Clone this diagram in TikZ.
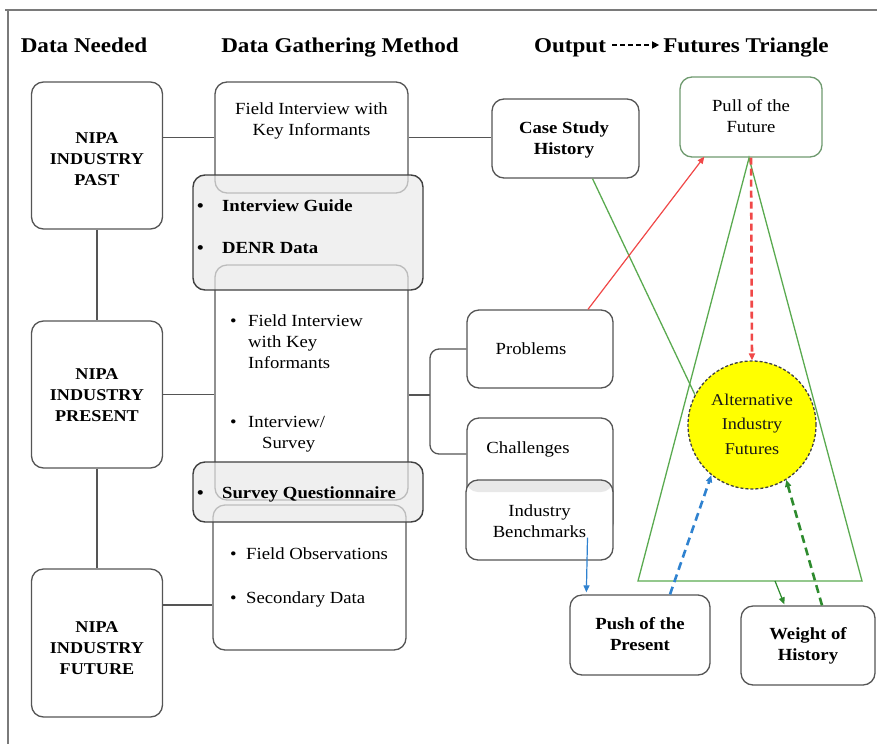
\documentclass[tikz,border=0pt]{standalone}
\usepackage{fontspec}
\setmainfont{Liberation Serif}[FakeStretch=1.1]
\usetikzlibrary{arrows.meta}
\definecolor{edge}{HTML}{555555}
\definecolor{framegray}{HTML}{7a7a7a}
\definecolor{tri}{HTML}{5aaa50}
\definecolor{pullred}{HTML}{F04848}
\definecolor{pushblue}{HTML}{2F82D0}
\definecolor{histgreen}{HTML}{2E8B2E}
\definecolor{panel}{HTML}{E9E9E9}
\definecolor{sun}{HTML}{FFFF00}
\definecolor{pullbox}{HTML}{6F9A6F}

\begin{document}
\begin{tikzpicture}[x=1pt,y=-1pt,
  box/.style={draw=edge, line width=1.3pt, rounded corners=12pt, fill=white, inner sep=0pt},
  panelbox/.style={draw=black!75, line width=1.4pt, rounded corners=12pt, fill=panel, fill opacity=0.7, inner sep=0pt},
  txt/.style={font=\fontsize{17}{21}\selectfont, align=center, inner sep=0pt},
  btxt/.style={font=\fontsize{17}{21}\selectfont\bfseries, align=center, inner sep=0pt},
  lst/.style={font=\fontsize{17}{21}\selectfont, inner sep=0pt, anchor=base west},
  blst/.style={font=\fontsize{17}{21}\selectfont\bfseries, inner sep=0pt, anchor=base west},
  head/.style={font=\fontsize{21}{25}\selectfont\bfseries, inner sep=0pt, anchor=base},
  conn/.style={draw=edge, line width=1.3pt},
  tip/.style={-{Triangle[length=7pt,width=6pt]}}]

\useasboundingbox (0,0) rectangle (877,744);

% outer frame (only the top and left sides are in view)
\draw[framegray, line width=2pt] (5,10) -- (877,10);
\draw[framegray, line width=2pt] (8,10) -- (8,744);

% column headings
\node[head] (hNeed) at (84,52) {Data Needed};
\node[head] (hMeth) at (340,52) {Data Gathering Method};
\node[head] (hOut) at (570,52) {Output};
\node[head] (hTri) at (746,52) {Futures Triangle};
\draw[black, line width=1.4pt, dashed, dash pattern=on 5pt off 3pt, -{Triangle[length=7pt,width=7pt]}]
  ([xshift=6pt,yshift=7pt]hOut.base east) coordinate (hA) -- ([xshift=-4pt,yshift=7pt]hTri.base west) coordinate (hB);

% data needed
\node[box, minimum width=131pt, minimum height=147pt] (past) at (97,155.5) {};
\node[btxt, font=\fontsize{16.5}{21}\selectfont\bfseries] (pastT) at (97,159) {NIPA\\INDUSTRY\\PAST};
\node[box, minimum width=131pt, minimum height=147pt] (present) at (97,394.5) {};
\node[btxt, font=\fontsize{16.5}{21}\selectfont\bfseries] (presentT) at (97,395) {NIPA\\INDUSTRY\\PRESENT};
\node[box, minimum width=131pt, minimum height=148pt] (future) at (97,643) {};
\node[btxt, font=\fontsize{16.5}{21}\selectfont\bfseries] (futureT) at (97,648) {NIPA\\INDUSTRY\\FUTURE};

\draw[conn] (past.south) -- (present.north);
\draw[conn] (present.south) -- (future.north);

% data gathering methods
\node[box, minimum width=193pt, minimum height=111pt] (boxA) at (311.5,137.5) {};
\node[txt] (boxAT) at (311.5,121) {Field Interview with\\Key Informants};
\node[box, minimum width=193pt, minimum height=235pt] (boxB) at (311.5,382.5) {};
\node[box, minimum width=193pt, minimum height=145pt] (boxC) at (309.5,577.5) {};

\node[lst] (bB1) at (230,326) {\textbullet};
\node[lst] (bB1t) at (248,326) {\begin{tabular}[t]{@{}l@{}}Field Interview\\with Key\\Informants\end{tabular}};
\node[lst] (bB2) at (230,427) {\textbullet};
\node[lst] (bB2t) at (248,427) {\begin{tabular}[t]{@{}l@{}}Interview/\\\hspace*{14pt}Survey\end{tabular}};
\node[lst] (bC1) at (230,559) {\textbullet};
\node[lst] (bC1t) at (246,559) {Field Observations};
\node[lst] (bC2) at (230,603) {\textbullet};
\node[lst] (bC2t) at (246,603) {Secondary Data};

% translucent instrument panels laid over the method boxes
\node[panelbox, minimum width=230pt, minimum height=115pt] (gradeA) at (308,232.5) {};
\node[blst] (gA1) at (197,211) {\textbullet};
\node[blst] (gA1t) at (222,211) {Interview Guide};
\node[blst] (gA2) at (197,253) {\textbullet};
\node[blst] (gA2t) at (222,253) {DENR Data};

\node[panelbox, minimum width=230pt, minimum height=60pt] (gradeB) at (308,492) {};
\node[blst] (gB1) at (197,498) {\textbullet};
\node[blst] (gB1t) at (222,498) {Survey Questionnaire};

\draw[conn] (boxA.west) -- (boxA.west -| past.east);
\draw[conn] (present.east) -- (present.east -| boxB.west);
\draw[conn] ([yshift=38pt]future.east) coordinate (fc) -- (fc -| boxC.west);

% outputs
\node[box, minimum width=147pt, minimum height=79pt] (case) at (565.5,138.5) {};
\node[btxt] (caseT) at (564,140) {Case Study\\History};
\node[box, minimum width=146pt, minimum height=78pt] (problems) at (540,349) {};
\node[txt] (problemsT) at (531,349) {Problems};
\node[box, minimum width=146pt, minimum height=117pt] (challenges) at (540,476.5) {};
\node[txt] (challengesT) at (528,449) {Challenges};
\node[box, minimum width=147pt, minimum height=80pt,
      path picture={\fill[black!9] (path picture bounding box.north west) rectangle ([yshift=-12pt]path picture bounding box.north east);}]
      (industry) at (539.5,520) {};
\node[txt] (industryT) at (539.5,521) {Industry\\Benchmarks};

\draw[conn] (boxA.east) -- (boxA.east -| case.west);
\coordinate (brk) at (430,395);
\draw[conn] ([yshift=-12.5pt]boxB.east) -- (brk);
\draw[conn, rounded corners=9pt] (problems.west) -- (problems.west -| brk) -- (brk |- 0,454) -- (challenges.west |- 0,454);

% futures triangle
\node[box, draw=pullbox, minimum width=142pt, minimum height=80pt] (pull) at (751,117) {};
\node[txt] (pullT) at (751,116) {Pull of the\\Future};
\coordinate (apex) at (749,158);
\coordinate (baseL) at (638,581);
\coordinate (baseR) at (862,581);
\draw[tri, line width=1.3pt] (baseL) -- (apex) -- (baseR) -- cycle;

\node[circle, draw=black!75, dashed, dash pattern=on 3pt off 2pt, line width=1.3pt, fill=sun,
      minimum size=128pt, inner sep=0pt] (alt) at (752,425) {};
\node[txt, font=\fontsize{16.5}{24.5}\selectfont, text=black!90] (altT) at (752,424) {Alternative\\Industry\\Futures};

\node[box, minimum width=140pt, minimum height=80pt] (push) at (640,635) {};
\node[btxt] (pushT) at (640,634) {Push of the\\Present};
\node[box, minimum width=134pt, minimum height=79pt] (weight) at (808,645.5) {};
\node[btxt] (weightT) at (808,646) {Weight of\\History};

% forces acting on the alternative futures
\draw[tri, line width=1.3pt] ([xshift=27pt]case.south) -- (alt.152);
\draw[pullred, line width=1.2pt, tip] ([xshift=48pt]problems.north) -- ([xshift=25pt,yshift=1pt]pull.south west);
\draw[pullred, line width=2.6pt, dashed, dash pattern=on 7pt off 4pt, tip] (pull.south) -- (alt.north);
\draw[pushblue, line width=1.2pt, tip] ([xshift=48pt,yshift=23pt]industry.south) -- ([xshift=17pt,yshift=2pt]push.north west);
\draw[pushblue, line width=2.6pt, dashed, dash pattern=on 8pt off 5pt, tip] ([xshift=30pt]push.north) -- (alt.231);
\draw[histgreen, line width=2.6pt, dashed, dash pattern=on 8pt off 5pt, tip] ([xshift=14pt]weight.north) -- (alt.302);
\coordinate (baseDrop) at (775,581);
\draw[histgreen, line width=1.2pt, tip] (baseDrop) -- ([xshift=44pt,yshift=1pt]weight.north west);
\end{tikzpicture}
\end{document}
